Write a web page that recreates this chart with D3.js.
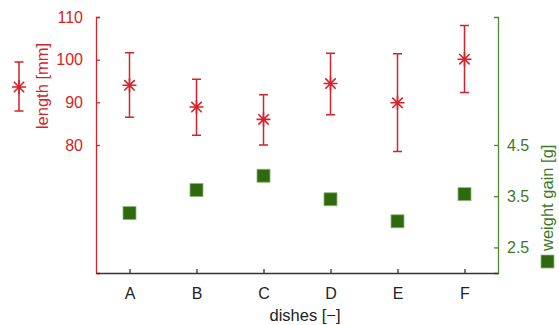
<!DOCTYPE html>
<html><head><meta charset="utf-8">
<script src="https://cdn.jsdelivr.net/npm/d3@7"></script>
<style>
body{margin:0;background:#fff}
svg{font-family:"Liberation Sans",Arial,Helvetica,sans-serif}
</style></head>
<body><svg id="c" width="559" height="325"></svg>
<script>
const categories = ["A","B","C","D","E","F"];
const lengthMean = [94.0, 88.9, 86.0, 94.4, 89.9, 100.1];
const lengthHigh = [101.6, 95.4, 91.8, 101.5, 101.4, 108.0];
const lengthLow  = [86.5, 82.3, 80.0, 87.1, 78.5, 92.3];
const weightGain = [3.17, 3.62, 3.90, 3.44, 3.01, 3.54];
const leftTicks = [80, 90, 100, 110];
const rightTicks = [2.5, 3.5, 4.5];

const RED = "#d4232b", GREEN_AX = "#4f8a2e", GREEN_TXT = "#3e7a1f", GREEN_SQ = "#2e690f";
const svg = d3.select("#c");
const L = 96, R = 498, T = 17, B = 273;
const x = d3.scalePoint().domain(categories).range([L, R]).padding(0.5);
const yL = d3.scaleLinear().domain([50, 110]).range([B, T]);
const yR = d3.scaleLinear().domain([2, 7]).range([B, T]);
const FS = "16px", LFS = "16.5px";

// left axis
const gl = svg.append("g").attr("transform", `translate(${L},0)`)
  .call(d3.axisLeft(yL).tickValues(leftTicks).tickSize(-4).tickSizeOuter(-4).tickPadding(13));
gl.select(".domain").attr("stroke", RED).attr("stroke-width", 1.3);
gl.selectAll(".tick line").attr("stroke", RED).attr("stroke-width", 1.3);
gl.selectAll(".tick text").attr("fill", RED).style("font-size", FS);

// right axis
const gr = svg.append("g").attr("transform", `translate(${R},0)`)
  .call(d3.axisRight(yR).tickValues(rightTicks).tickSize(-4).tickSizeOuter(-4).tickPadding(9).tickFormat(d3.format(".1f")));
gr.select(".domain").attr("stroke", GREEN_AX).attr("stroke-width", 1.3);
gr.selectAll(".tick line").attr("stroke", GREEN_AX).attr("stroke-width", 1.3);
gr.selectAll(".tick text").attr("fill", GREEN_TXT).style("font-size", FS);

// bottom axis
const gb = svg.append("g").attr("transform", `translate(0,${B})`)
  .call(d3.axisBottom(x).tickSize(-4).tickSizeOuter(0).tickPadding(15));
gb.select(".domain").attr("stroke", "#333").attr("stroke-width", 1.3);
gb.selectAll(".tick line").attr("stroke", "#333").attr("stroke-width", 1.3);
gb.selectAll(".tick text").attr("fill", "#222").style("font-size", FS);

// axis labels
svg.append("text").attr("x", 305).attr("y", 321).attr("text-anchor", "middle")
  .attr("fill", "#222").style("font-size", LFS).text("dishes [\u2212]");
svg.append("text").attr("transform", "translate(48,86) rotate(-90)").attr("text-anchor", "middle")
  .attr("fill", RED).style("font-size", LFS).text("length [mm]");
svg.append("text").attr("transform", "translate(553,251) rotate(-90)").attr("text-anchor", "start")
  .attr("fill", GREEN_TXT).style("font-size", LFS).text("weight gain [g]");
svg.append("rect").attr("x", 541).attr("y", 255).attr("width", 13).attr("height", 13)
  .attr("fill", GREEN_SQ).attr("stroke", "#8db874").attr("stroke-width", 0.8);

function star(g, cx, cy) {
  const h = 7, d = 5.2;
  const p = d3.path();
  p.moveTo(cx - h, cy); p.lineTo(cx + h, cy);
  p.moveTo(cx, cy - h); p.lineTo(cx, cy + h);
  p.moveTo(cx - d, cy - d); p.lineTo(cx + d, cy + d);
  p.moveTo(cx - d, cy + d); p.lineTo(cx + d, cy - d);
  g.append("path").attr("d", p.toString()).attr("stroke", RED).attr("stroke-width", 1.6).attr("fill", "none");
}
function errbar(g, cx, y1, y2) {
  const c = 4.5;
  const p = d3.path();
  p.moveTo(cx, y1); p.lineTo(cx, y2);
  p.moveTo(cx - c, y1); p.lineTo(cx + c, y1);
  p.moveTo(cx - c, y2); p.lineTo(cx + c, y2);
  g.append("path").attr("d", p.toString()).attr("stroke", RED).attr("stroke-width", 1.5).attr("fill", "none");
}

// weight gain squares
svg.append("g").selectAll("rect").data(categories).join("rect")
  .attr("x", d => x(d) - 6.5).attr("y", (d, i) => yR(weightGain[i]) - 6.5)
  .attr("width", 13).attr("height", 13)
  .attr("fill", GREEN_SQ).attr("stroke", "#8db874").attr("stroke-width", 0.8);

// length points with error bars
const gp = svg.append("g");
categories.forEach((c, i) => {
  errbar(gp, x(c), yL(lengthHigh[i]), yL(lengthLow[i]));
  star(gp, x(c), yL(lengthMean[i]));
});

// legend marker (left)
const lg = svg.append("g");
errbar(lg, 19, 62, 111);
star(lg, 19, 87);
</script></body></html>
